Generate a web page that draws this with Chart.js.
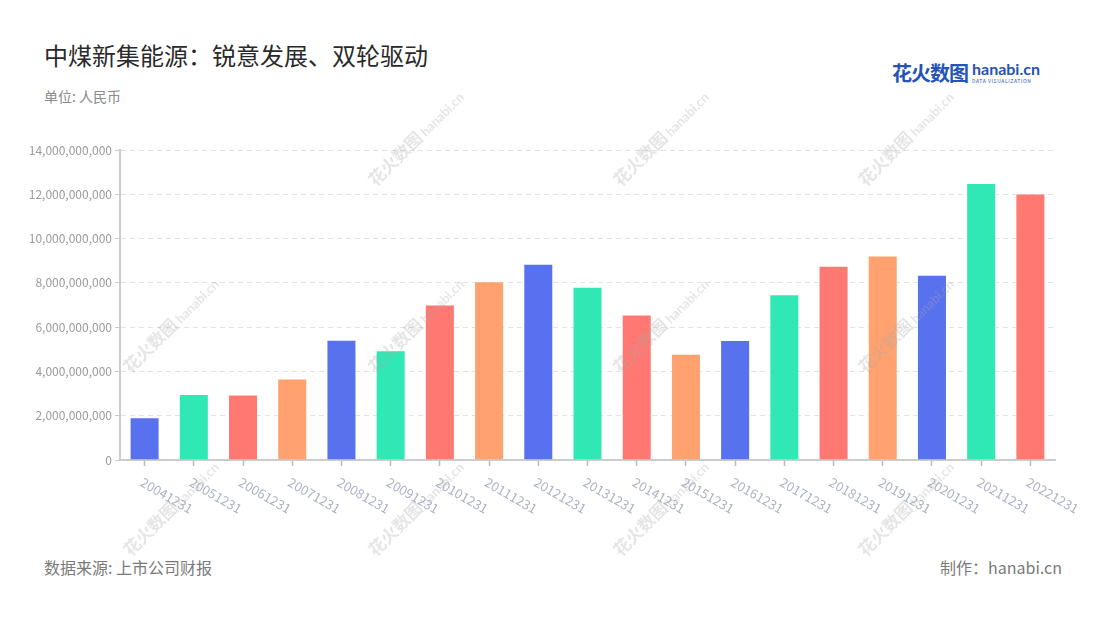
<!DOCTYPE html>
<html>
<head>
<meta charset="utf-8">
<script src="https://cdn.jsdelivr.net/npm/chart.js@4/dist/chart.umd.min.js"></script>
<style>
    html, body { margin: 0; padding: 0; background: #fff; }
    body { width: 1100px; height: 620px; position: relative; overflow: hidden;
           font-family: "Noto Sans CJK SC", "Noto Sans", sans-serif; }
    #title { position: absolute; left: 44px; top: 37px; font-size: 24px; line-height: 36px; color: #2a2a2a; }
    #unit { position: absolute; left: 44px; top: 86px; font-size: 14px; line-height: 20px; color: #8a8a8a; }
    #source { position: absolute; left: 44px; top: 555px; font-size: 16px; line-height: 24px; color: #7a7a7a; }
    #maker { position: absolute; right: 38px; top: 555px; font-size: 16px; line-height: 24px; color: #7a7a7a; }
    #logo { position: absolute; left: 892px; top: 58px; color: #2553b8; white-space: nowrap; }
    #logo .cn { font-size: 20px; font-weight: bold; letter-spacing: -1px; vertical-align: top; }
    #logo .en { display: inline-block; margin-left: 4px; vertical-align: top; line-height: 1; }
    #logo .en b { font-family: "Lato", sans-serif; font-size: 16px; display: block; margin-top: 3px; }
    #logo .en i { font-style: normal; font-size: 5px; letter-spacing: 0.6px; display: block; margin-top: 1px; }
    #wrap { position: absolute; left: 0; top: 130px; width: 1100px; height: 400px; }
    .wm { position: absolute; transform: rotate(-45deg); transform-origin: center;
          color: rgba(170,170,170,0.3); white-space: nowrap; pointer-events: none; }
    .wm .c { font-size: 17px; font-weight: bold; }
    .wm .e { font-size: 13px; font-weight: bold; font-family: "Lato", sans-serif; margin-left: 3px; }
</style>
</head>
<body>
<div id="title">中煤新集能源：锐意发展、双轮驱动</div>
<div id="unit">单位: 人民币</div>
<div id="logo"><span class="cn">花火数图</span><span class="en"><b>hanabi.cn</b><i>DATA VISUALIZATION</i></span></div>
<div id="wrap"><canvas id="chart"></canvas></div>
<div id="source">数据来源: 上市公司财报</div>
<div id="maker">制作：hanabi.cn</div>
<div id="marks"></div>
<script>
    var categories = ['20041231', '20051231', '20061231', '20071231', '20081231',
        '20091231', '20101231', '20111231', '20121231', '20131231', '20141231',
        '20151231', '20161231', '20171231', '20181231', '20191231', '20201231',
        '20211231', '20221231'];

    var revenue = [1930000000, 2980000000, 2960000000, 3680000000, 5430000000,
        4960000000, 7020000000, 8070000000, 8860000000, 7820000000, 6570000000,
        4800000000, 5420000000, 7480000000, 8770000000, 9230000000, 8370000000,
        12510000000, 12030000000];

    var yTicks = [0, 2000000000, 4000000000, 6000000000, 8000000000,
        10000000000, 12000000000, 14000000000];

    var palette = ['#5871ee', '#30e8b4', '#ff7871', '#ffa26f'];

    // watermark centers
    var marks = [[427, 125], [672, 125], [917, 125],
        [182, 312], [427, 312], [672, 312], [917, 312],
        [182, 495], [427, 495], [672, 495], [917, 495]];

    (function() {
        var box = document.getElementById('marks');
        var s = '';
        marks.forEach(function(m) {
            s += "<div class='wm' style='left:" + (m[0] - 80) + "px;top:" + (m[1] - 12) + "px;width:160px'>";
            s += "<span class='c'>花火数图</span><span class='e'>hanabi.cn</span></div>";
        });
        box.innerHTML = s;
    })();

    function fmt(v) {
        return String(v).replace(/\B(?=(\d{3})+(?!\d))/g, ',');
    }

    // x labels go down-right, chart.js only rotates the other way
    var slantLabels = {
        id: 'slantLabels',
        afterDraw: function(chart) {
            var ctx = chart.ctx, x = chart.scales.x, bottom = chart.chartArea.bottom;
            ctx.save();
            ctx.fillStyle = '#adb1c4';
            ctx.font = '13px "Noto Sans CJK SC", "Noto Sans", sans-serif';
            ctx.textAlign = 'left';
            ctx.textBaseline = 'middle';
            categories.forEach(function(c, i) {
                ctx.save();
                ctx.translate(x.getPixelForValue(i) - 3, bottom + 21);
                ctx.rotate(Math.PI / 6);
                ctx.fillText(c, 0, 0);
                ctx.restore();
            });
            ctx.restore();
        }
    };

    var chart = new Chart(document.getElementById('chart'), {
        type: 'bar',
        data: {
            labels: categories,
            datasets: [{
                data: revenue,
                backgroundColor: revenue.map(function(v, i) { return palette[i % 4]; }),
                borderColor: 'rgba(255,255,255,0.3)',
                borderWidth: 1,
                barPercentage: 0.61,
                categoryPercentage: 1
            }]
        },
        options: {
            responsive: true,
            maintainAspectRatio: false,
            animation: false,
            layout: { padding: { top: 20, right: 45, left: 0, bottom: 0 } },
            plugins: { legend: { display: false }, tooltip: { enabled: false } },
            scales: {
                x: {
                    afterFit: function(s) { s.height = 70; },
                    ticks: { display: false },
                    grid: { offset: false, drawOnChartArea: false, drawTicks: true,
                            tickLength: 6, tickColor: '#bbb', tickWidth: 1.5 },
                    border: { color: '#ccc', width: 2 }
                },
                y: {
                    min: 0,
                    max: 14000000000,
                    afterFit: function(s) { s.width = 120; },
                    afterBuildTicks: function(s) {
                        s.ticks = yTicks.map(function(v) { return { value: v }; });
                    },
                    ticks: {
                        padding: 3,
                        color: '#9a9a9a',
                        font: { family: '"Noto Sans CJK SC", "Noto Sans", sans-serif', size: 12 },
                        callback: function(v) { return fmt(v); }
                    },
                    grid: { color: '#e2e2e2', lineWidth: 1, tickLength: 5,
                            tickColor: '#ccc', tickBorderDash: [], drawTicks: true },
                    border: { color: '#ccc', width: 2, dash: [5, 4] }
                }
            }
        },
        plugins: [slantLabels]
    });
</script>
</body>
</html>
